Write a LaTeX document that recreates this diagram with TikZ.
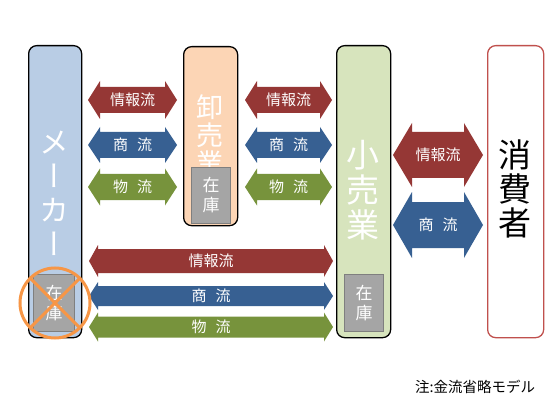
\documentclass[tikz,border=0pt]{standalone}
\usepackage{fontspec}
\setmainfont{Noto Sans CJK JP}
\newfontfamily\jpvert[RawFeature=+vert]{Noto Sans CJK JP}
\definecolor{infored}{HTML}{953735}
\definecolor{tradeblue}{HTML}{376092}
\definecolor{goodsgreen}{HTML}{77933C}
\definecolor{makerfill}{HTML}{B9CDE5}
\definecolor{wholefill}{HTML}{FCD5B5}
\definecolor{retailfill}{HTML}{D7E4BD}
\definecolor{consborder}{HTML}{C0504D}
\definecolor{stockgray}{HTML}{A5A5A5}
\definecolor{stockline}{HTML}{7F7F7F}
\definecolor{crossorange}{HTML}{F79646}
\newcommand\dbarrow[9]{%
  \fill[#7] (#1,#3) -- (#1+#6,#3-#4) -- (#1+#6,#3-#5) -- (#2-#6,#3-#5) -- (#2-#6,#3-#4)
    -- (#2,#3) -- (#2-#6,#3+#4) -- (#2-#6,#3+#5) -- (#1+#6,#3+#5) -- (#1+#6,#3+#4) -- cycle;
  \node[lbl] (#9) at ({(#1+#2)/2},#3) {#8};}
\begin{document}
\begin{tikzpicture}[x=1pt,y=-1pt,
  actor/.style={draw=black, line width=1.3pt, rounded corners=8pt, inner sep=0pt},
  stockbox/.style={draw=stockline, line width=1pt, fill=stockgray, inner sep=0pt,
    text=white, align=center, font=\fontsize{17}{20}\selectfont},
  bigtext/.style={align=center, inner sep=0pt},
  lbl/.style={text=white, font=\fontsize{15}{15}\selectfont, inner sep=0pt}]
\useasboundingbox[fill=white] (0,0) rectangle (549,401);

% actors
\node[actor, fill=makerfill, minimum width=53pt, minimum height=292pt, anchor=north west] (maker) at (28,45) {};
\node[actor, fill=wholefill, minimum width=54pt, minimum height=179pt, anchor=north west] (whole) at (183,46) {};
\node[actor, fill=retailfill, minimum width=54pt, minimum height=292pt, anchor=north west] (retail) at (336,45) {};
\node[actor, draw=consborder, fill=white, minimum width=56pt, minimum height=292pt, anchor=north west] (cons) at (487,45) {};

% actor names
\node[bigtext, text=white, font=\jpvert\fontsize{30}{34}\selectfont] (makername) at (54.5,193) {メ\\ー\\カ\\ー};
\node[bigtext, text=white, font=\fontsize{27}{28}\selectfont] (wholename) at (210,135) {卸\\売\\業};
\node[bigtext, text=white, font=\fontsize{33}{35}\selectfont] (retailname) at (363,190) {小\\売\\業};
\node[bigtext, text=black, font=\fontsize{33}{34}\selectfont] (consname) at (515,189) {消\\費\\者};

% stock boxes
\node[stockbox, minimum width=41pt, minimum height=57pt, anchor=north west] (makerstock) at (33,274) {在\\庫};
\node[stockbox, minimum width=39pt, minimum height=56pt, anchor=north west] (wholestock) at (191,167) {在\\庫};
\node[stockbox, minimum width=39pt, minimum height=57pt, anchor=north west] (retailstock) at (344,274) {在\\庫};

% maker - wholesaler
\dbarrow{88}{177}{100}{19}{13}{12}{infored}{情報流}{mwinfo}
\dbarrow{88}{177}{145}{18}{13}{12}{tradeblue}{商\kern0.6em 流}{mwtrade}
\dbarrow{88}{177}{187}{18.5}{13}{12}{goodsgreen}{物\kern0.6em 流}{mwgoods}
% wholesaler - retailer
\dbarrow{245}{332}{100}{19}{13}{12}{infored}{情報流}{wrinfo}
\dbarrow{245}{332}{145}{18}{13}{12}{tradeblue}{商\kern0.6em 流}{wrtrade}
\dbarrow{245}{332}{187}{18.5}{13}{12}{goodsgreen}{物\kern0.6em 流}{wrgoods}
% retailer - consumer
\dbarrow{393}{483}{155}{32}{23}{19}{infored}{情報流}{rcinfo}
\dbarrow{393}{483}{225}{33}{23}{19}{tradeblue}{商\kern0.6em 流}{rctrade}
% maker - retailer (direct)
\dbarrow{89}{333}{261}{16}{12}{9}{infored}{情報流}{mrinfo}
\dbarrow{89}{333}{296}{14}{10}{9}{tradeblue}{商\kern0.6em 流}{mrtrade}
\dbarrow{89}{333}{327}{14.5}{10.5}{9}{goodsgreen}{物\kern0.6em 流}{mrgoods}

% crossed-out maker stock
\node[circle, draw=crossorange, line width=3pt, minimum size=70pt, inner sep=0pt] (nostock) at (55,303) {};
\draw[crossorange, line width=3pt] (nostock.135) -- (nostock.-45);
\draw[crossorange, line width=3pt] (nostock.45) -- (nostock.-135);

% note
\node[anchor=west, inner sep=0pt, font=\fontsize{14.5}{15}\selectfont] (note) at (415,387) {注:金流省略モデル};
\end{tikzpicture}
\end{document}
